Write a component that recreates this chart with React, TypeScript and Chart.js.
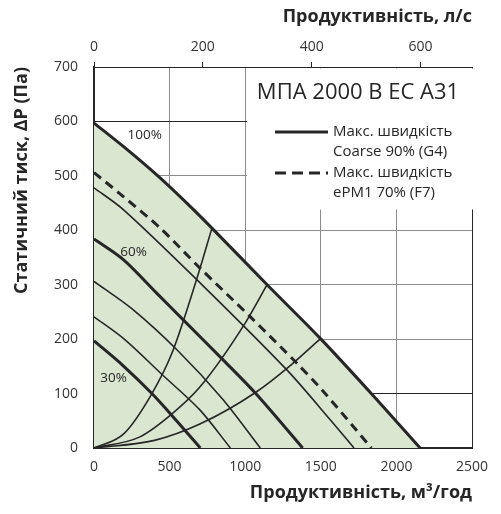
import React, { useEffect, useRef } from "react";
import { Chart, registerables } from "chart.js";

Chart.register(...registerables);

// ---- axis ticks ----
const flowTicks = [0, 500, 1000, 1500, 2000, 2500]; // m³/год
const flowLsTicks = [0, 200, 400, 600]; // л/с
const pressureTicks = [0, 100, 200, 300, 400, 500, 600, 700]; // Па
const flowMaxM3h = 2500;
const flowMaxLs = 2500 / 3.6;

// ---- fan curves (Q m³/год, P Па) ----
const fan100Q = [0, 194, 426, 636, 780, 1145, 1498, 1841, 2157];
const fan100P = [597, 554, 499, 444, 404, 300, 201, 98, 0];

const filterQ = [0, 194, 438, 703, 1034, 1344, 1510, 1835];
const filterP = [506, 462, 404, 330, 241, 155, 106, 0];

const fan85Q = [0, 194, 703, 1277, 1565, 1720];
const fan85P = [478, 438, 303, 143, 51, 0];

const fan60Q = [0, 194, 416, 592, 857, 1070, 1380];
const fan60P = [384, 346, 284, 235, 161, 100, 0];

const fan50Q = [0, 250, 550, 850, 1100];
const fan50P = [306, 256, 180, 90, 0];

const fan40Q = [0, 200, 450, 700, 902];
const fan40P = [241, 200, 135, 70, 0];

const fan30Q = [0, 190, 383, 540, 703];
const fan30P = [197, 152, 100, 52, 0];

// ---- system curves ----
const sysAQ = [0, 200, 383, 515, 681, 780];
const sysAP = [0, 27, 100, 174, 312, 404];
const sysBQ = [0, 300, 504, 700, 1001, 1145];
const sysBP = [0, 20, 60, 112, 230, 300];
const sysCQ = [0, 400, 700, 1068, 1300, 1498];
const sysCP = [0, 14, 44, 102, 152, 201];

// ---- texts ----
const speedLabels = ["100%", "60%", "30%"];
const modelName = "МПА 2000 В ЕС А31";
const legendSolid = ["Макс. швидкість", "Coarse 90% (G4)"];
const legendDashed = ["Макс. швидкість", "ePM1 70% (F7)"];
const titleTop = "Продуктивність, л/с";
const titleBottom = "Продуктивність, м³/год";
const titleLeft = "Статичний тиск, ΔP (Па)";

const DARK = "#262626";
const GRID = "#8c8c8c";
const FILL = "#dae6cf";
const FONT = "'Open Sans', 'Noto Sans', sans-serif";

const pts = (q: number[], p: number[]) => q.map((v, i) => ({ x: v, y: p[i] }));

const overlayPlugin = {
  id: "overlay",
  beforeDatasetsDraw(chart: any) {
    const { ctx, chartArea: a } = chart;
    ctx.save();
    ctx.fillStyle = "#ffffff";
    ctx.fillRect(a.left + 153, a.top + 1.5, a.right - a.left - 153 + 2, 141);
    ctx.restore();
  },
  afterDatasetsDraw(chart: any) {
    const { ctx, chartArea: a, scales } = chart;
    const sx = scales.x;
    const sy = scales.y;
    ctx.save();
    ctx.fillStyle = DARK;
    ctx.textBaseline = "middle";
    // model name
    ctx.textAlign = "center";
    ctx.font = `22px ${FONT}`;
    ctx.fillText(modelName, a.left + 264, a.top + 26);
    // legend
    ctx.font = `15px ${FONT}`;
    ctx.textAlign = "left";
    const lx0 = a.left + 181;
    const lx1 = a.left + 234;
    const tx = a.left + 239;
    ctx.strokeStyle = DARK;
    ctx.lineWidth = 3;
    ctx.beginPath();
    ctx.moveTo(lx0, a.top + 65);
    ctx.lineTo(lx1, a.top + 65);
    ctx.stroke();
    ctx.setLineDash([11, 6]);
    ctx.beginPath();
    ctx.moveTo(lx0, a.top + 106);
    ctx.lineTo(lx1, a.top + 106);
    ctx.stroke();
    ctx.setLineDash([]);
    ctx.fillText(legendSolid[0], tx, a.top + 65);
    ctx.fillText(legendSolid[1], tx, a.top + 85);
    ctx.fillText(legendDashed[0], tx, a.top + 106);
    ctx.fillText(legendDashed[1], tx, a.top + 126);
    // speed labels
    ctx.font = `13.5px ${FONT}`;
    ctx.textAlign = "center";
    ctx.fillText(speedLabels[0], sx.getPixelForValue(335), sy.getPixelForValue(574));
    ctx.fillText(speedLabels[1], sx.getPixelForValue(262), sy.getPixelForValue(360));
    ctx.fillText(speedLabels[2], sx.getPixelForValue(129), sy.getPixelForValue(128));
    ctx.restore();
  },
};

export default function App() {
  const ref = useRef<HTMLCanvasElement | null>(null);

  useEffect(() => {
    if (!ref.current) return;
    const thick = { borderColor: DARK, borderWidth: 3, pointRadius: 0, fill: false, tension: 0.3 };
    const thin = { borderColor: DARK, borderWidth: 1.6, pointRadius: 0, fill: false, tension: 0.3 };
    const sys = { borderColor: DARK, borderWidth: 1.6, pointRadius: 0, fill: false, cubicInterpolationMode: "monotone" as const };
    const tickFont = { family: FONT, size: 14 };
    const titleFont = { family: FONT, size: 18, weight: "bold" as const };
    const plain = (v: any) => String(v);
    const chart = new Chart(ref.current, {
      type: "line",
      data: {
        datasets: [
          { ...thick, label: "100%", data: pts(fan100Q, fan100P) },
          { ...thick, label: "filter", data: pts(filterQ, filterP), borderDash: [9, 6] },
          { ...thin, label: "85%", data: pts(fan85Q, fan85P) },
          { ...thick, label: "60%", data: pts(fan60Q, fan60P) },
          { ...thin, label: "50%", data: pts(fan50Q, fan50P) },
          { ...thin, label: "40%", data: pts(fan40Q, fan40P) },
          { ...thick, label: "30%", data: pts(fan30Q, fan30P) },
          { ...sys, label: "sysA", data: pts(sysAQ, sysAP) },
          { ...sys, label: "sysB", data: pts(sysBQ, sysBP) },
          { ...sys, label: "sysC", data: pts(sysCQ, sysCP) },
          {
            label: "area",
            data: pts(fan100Q, fan100P),
            borderWidth: 0,
            borderColor: "rgba(0,0,0,0)",
            backgroundColor: FILL,
            fill: "origin",
            pointRadius: 0,
            tension: 0.3,
            order: 10,
          },
        ],
      },
      options: {
        animation: false,
        responsive: true,
        maintainAspectRatio: false,
        layout: { padding: { left: 0, right: 29, top: 0, bottom: 0 } },
        plugins: {
          legend: { display: false },
          tooltip: { enabled: false },
          filler: { drawTime: "beforeDatasetsDraw" },
        },
        scales: {
          x: {
            type: "linear",
            position: "bottom",
            min: 0,
            max: flowMaxM3h,
            afterBuildTicks: (s: any) => { s.ticks = flowTicks.map((v) => ({ value: v })); },
            afterFit: (s: any) => { s.height = 66; },
            ticks: { color: "#333", font: tickFont, padding: 11, maxRotation: 0, callback: plain },
            grid: {
              drawTicks: false,
              color: (c: any) => (c.tick && c.tick.value === 2500 ? DARK : GRID),
              lineWidth: 1,
            },
            border: { color: DARK, width: 2 },
            title: {
              display: true,
              text: titleBottom,
              align: "end",
              color: DARK,
              font: titleFont,
              padding: { top: 0, bottom: 10 },
            },
          },
          x2: {
            type: "linear",
            position: "top",
            min: 0,
            max: flowMaxLs,
            afterBuildTicks: (s: any) => { s.ticks = flowLsTicks.map((v) => ({ value: v })); },
            afterFit: (s: any) => { s.height = 67; },
            ticks: { color: "#333", font: tickFont, padding: 7, maxRotation: 0, callback: plain },
            grid: { drawOnChartArea: false, drawTicks: true, tickLength: 5, color: DARK },
            border: { color: DARK, width: 1 },
            title: {
              display: true,
              text: titleTop,
              align: "end",
              color: DARK,
              font: titleFont,
              padding: { top: 6, bottom: 0 },
            },
          },
          y: {
            type: "linear",
            position: "left",
            min: 0,
            max: 700,
            afterBuildTicks: (s: any) => { s.ticks = pressureTicks.map((v) => ({ value: v })); },
            afterFit: (s: any) => { s.width = 94; },
            ticks: { color: "#333", font: tickFont, padding: 16, callback: plain },
            grid: {
              drawTicks: false,
              color: (c: any) => (c.tick && [100, 600, 700].includes(c.tick.value) ? DARK : GRID),
              lineWidth: 1,
            },
            border: { color: DARK, width: 2 },
            title: {
              display: true,
              text: titleLeft,
              align: "end",
              color: DARK,
              font: titleFont,
              padding: { top: 11, bottom: 0 },
            },
          },
        },
      },
      plugins: [overlayPlugin],
    } as any);
    return () => chart.destroy();
  }, []);

  return (
    <div style={{ position: "fixed", left: 0, top: 0, width: 501, height: 514, background: "#fff" }}>
      <canvas ref={ref} />
    </div>
  );
}
